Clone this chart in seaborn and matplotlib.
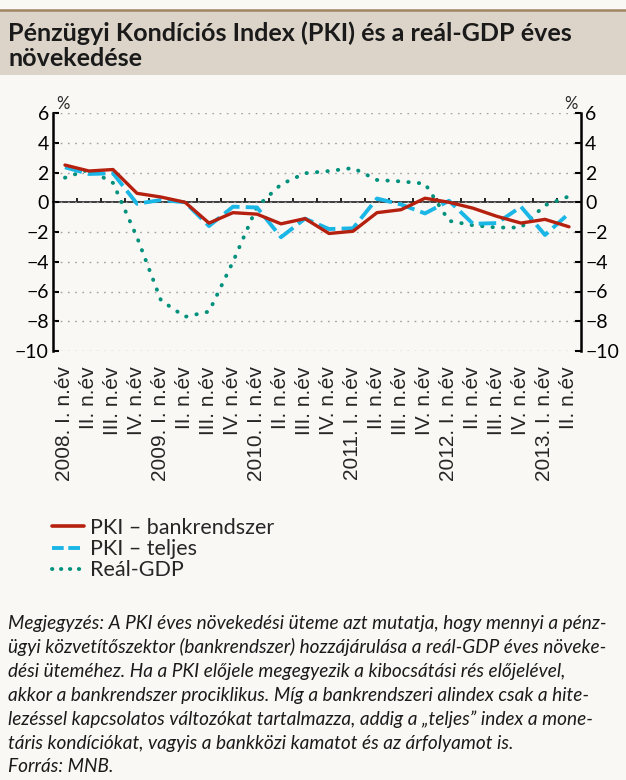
import numpy as np
import pandas as pd
import matplotlib
matplotlib.use('Agg')
import matplotlib.pyplot as plt
import seaborn as sns
from matplotlib.patches import Rectangle
from matplotlib.lines import Line2D

# data (quarterly, 2008 Q1 - 2013 Q2)
years = ['2008.', '2009.', '2010.', '2011.', '2012.', '2013.']
quarters = ['I. n.év', 'II. n.év', 'III. n.év', 'IV. n.év']
pki_bank = [2.5, 2.1, 2.2, 0.6, 0.35, 0.0, -1.4, -0.7, -0.8, -1.45, -1.1,
            -2.1, -1.95, -0.7, -0.5, 0.27, 0.0, -0.4, -0.95, -1.4, -1.15, -1.65]
pki_full = [2.35, 1.9, 1.95, -0.1, 0.15, 0.0, -1.6, -0.3, -0.35, -2.35, -1.1,
            -1.8, -1.75, 0.25, -0.15, -0.75, 0.1, -1.45, -1.4, -0.3, -2.2, -0.75]
real_gdp = [1.65, 2.2, 1.3, -2.35, -6.6, -7.7, -7.35, -4.0, -0.3, 1.2, 1.95,
            2.1, 2.3, 1.5, 1.4, 1.25, -1.25, -1.55, -1.7, -1.7, -0.2, 0.4]
series_names = ['PKI – bankrendszer', 'PKI – teljes', 'Reál-GDP']

title = 'Pénzügyi Kondíciós Index (PKI) és a reál-GDP éves\nnövekedése'
note_lines = [
    'Megjegyzés: A PKI éves növekedési üteme azt mutatja, hogy mennyi a pénz-',
    'ügyi közvetítőszektor (bankrendszer) hozzájárulása a reál-GDP éves növeke-',
    'dési üteméhez. Ha a PKI előjele megegyezik a kibocsátási rés előjelével,',
    'akkor a bankrendszer prociklikus. Míg a bankrendszeri alindex csak a hite-',
    'lezéssel kapcsolatos változókat tartalmazza, addig a „teljes” index a mone-',
    'táris kondíciókat, vagyis a bankközi kamatot és az árfolyamot is.',
    'Forrás: MNB.',
]

labels = []
for y in years:
    for j, q in enumerate(quarters):
        labels.append(f'{y} {q}' if j == 0 else q)
labels = labels[:len(pki_bank)]
n = len(labels)

df = pd.DataFrame({'idx': np.arange(n), 'bank': pki_bank, 'full': pki_full, 'gdp': real_gdp})

sns.set_theme(style='white')
plt.rcParams['font.family'] = ['Lato', 'DejaVu Sans']
bg = '#f9f8f5'

fig = plt.figure(figsize=(6.26, 7.8), dpi=100, facecolor=bg)
ax = fig.add_axes([53 / 626, 1 - 351 / 780, 528 / 626, 238 / 780])
ax.set_facecolor(bg)

# title band
fig.patches.append(Rectangle((0, 1 - 75 / 780), 1, 64 / 780, transform=fig.transFigure,
                             facecolor='#dcd4c8', edgecolor='none', zorder=0))
fig.add_artist(Line2D([0, 1], [1 - 10 / 780, 1 - 10 / 780], transform=fig.transFigure,
                      color='#a08462', lw=1.8))
t1 = fig.text(8 / 626, 1 - 33 / 780, title.split('\n')[0], fontsize=16, fontweight='bold',
              color='#1a1a1a', va='center', ha='left')
t2 = fig.text(8 / 626, 1 - 58 / 780, title.split('\n')[1], fontsize=16, fontweight='bold',
              color='#1a1a1a', va='center', ha='left')
# fit the title to the width it has in the reference
r = fig.canvas.get_renderer()
w = t1.get_window_extent(r).width
for t in (t1, t2):
    t.set_fontsize(16 * 567 / w)

# grid
for v in range(-10, 7, 2):
    ax.axhline(v, color='#a0a0a0', lw=1.0, ls=(0, (1.2, 4)), zorder=1)

sns.lineplot(data=df, x='idx', y='gdp', ax=ax, color='#00917c', lw=2.8,
             linestyle=(0, (0.1, 2.6)), dash_capstyle='round', label=series_names[2], zorder=3)
sns.lineplot(data=df, x='idx', y='full', ax=ax, color='#1ab6e6', lw=2.8,
             linestyle=(0, (4.5, 1.6)), label=series_names[1], zorder=4)
sns.lineplot(data=df, x='idx', y='bank', ax=ax, color='#b5200f', lw=2.4,
             label=series_names[0], zorder=5)
ax.get_legend().remove()

ax.set_xlim(-0.5, n - 0.5)
ax.set_ylim(-10, 6)
ax.set_xlabel('')
ax.set_ylabel('')

# zero line with category ticks
sec = ax.secondary_xaxis(10 / 16)
sec.set_xticks(np.arange(n - 1) + 0.5)
sec.set_xticklabels([])
sec.tick_params(direction='out', length=3, width=1.2, color='black')
sec.spines['bottom'].set_linewidth(1.8)
sec.spines['bottom'].set_color('black')

for s in ['top', 'bottom']:
    ax.spines[s].set_visible(False)
for s in ['left', 'right']:
    ax.spines[s].set_color('black')
    ax.spines[s].set_linewidth(1.8)

ax.set_yticks(range(-10, 7, 2))
ax.tick_params(axis='y', left=True, right=True, labelleft=True, labelright=True,
               direction='in', length=4, width=1.5, labelsize=14, pad=3, colors='black')

# category labels
ax.set_xticks(np.arange(n))
ax.set_xticklabels(labels, rotation=90, fontsize=15, family='Liberation Sans')
ax.tick_params(axis='x', length=0, pad=11)

ax.text(0.006, 1.005, '%', transform=ax.transAxes, fontsize=12, ha='left', va='bottom')
ax.text(0.994, 1.005, '%', transform=ax.transAxes, fontsize=12, ha='right', va='bottom')

# legend
handles = [Line2D([], [], color='#b5200f', lw=2.6),
           Line2D([], [], color='#1ab6e6', lw=2.8, ls=(0, (3, 1.2))),
           Line2D([], [], color='#00917c', lw=2.8, ls=(0, (0.1, 2.2)), dash_capstyle='round')]
fig.legend(handles, series_names, loc='upper left', bbox_to_anchor=(52 / 626, 1 - 518 / 780),
           frameon=False, fontsize=15.5, handlelength=1.5, handletextpad=0.25,
           labelspacing=0.05, borderpad=0, borderaxespad=0)

for k, line in enumerate(note_lines):
    fig.text(8 / 626, 1 - (623 + 24 * k) / 780, line, fontsize=13.7, style='italic',
             ha='left', va='center', color='#1a1a1a')

fig.savefig('out.png', dpi=100, facecolor=bg)
